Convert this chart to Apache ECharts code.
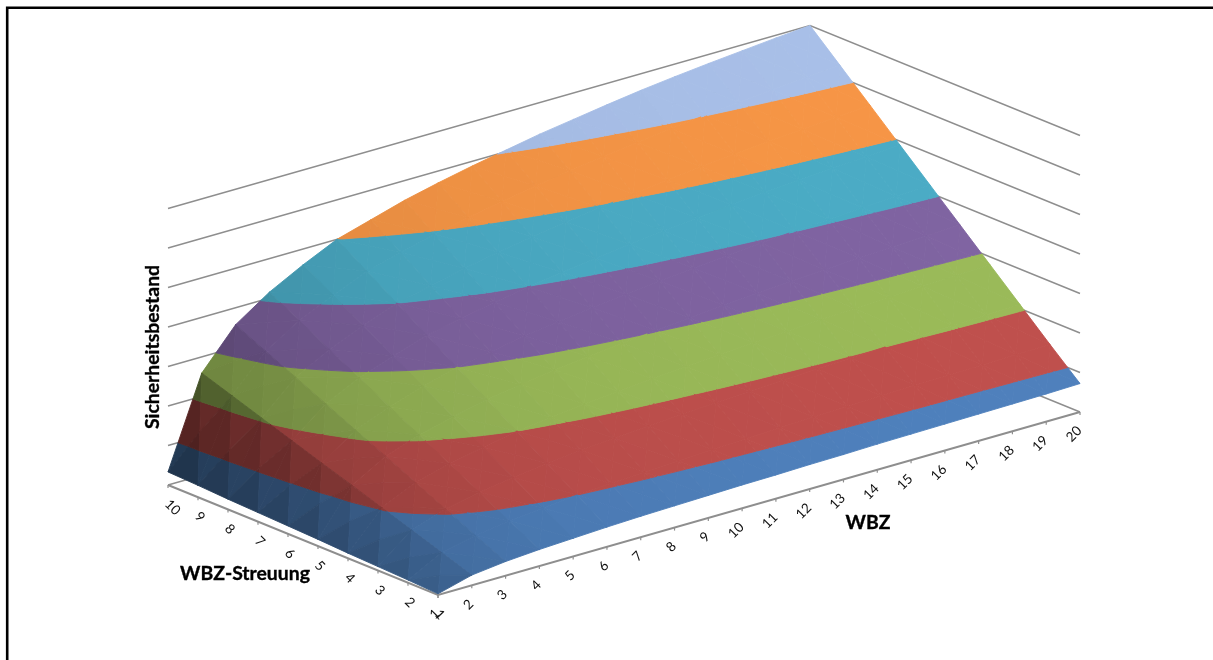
<!DOCTYPE html>
<html>
<head>
<meta charset="utf-8">
<title>Sicherheitsbestand</title>
<style>html,body{margin:0;padding:0;background:#fff}#chart{width:1213px;height:660px}</style>
<script src="https://cdn.jsdelivr.net/npm/echarts@6/dist/echarts.min.js"></script>
</head>
<body>
<div id="chart"></div>
<script>
// Tick labels of the two floor axes
const wbzTicks = [1,2,3,4,5,6,7,8,9,10,11,12,13,14,15,16,17,18,19,20];
const streuungTicks = [1,2,3,4,5,6,7,8,9,10];
// Wall grid levels, one colour band between each pair
const levels = [0,1,2,3,4,5,6,7];
const bandColors = ['#4F81BD','#C0504D','#9BBB59','#8064A2','#4BACC6','#F79646','#A9C0E9'];

// Safety stock: one row per WBZ, one column per WBZ-Streuung 1..10
const sicherheitsbestand = [
  [0.03,0.07,0.10,0.13,0.17,0.20,0.23,0.26,0.30,0.33],
  [0.26,0.52,0.78,1.04,1.30,1.55,1.81,2.07,2.33,2.59],
  [0.36,0.71,1.07,1.43,1.79,2.14,2.50,2.86,3.21,3.57],
  [0.42,0.83,1.25,1.66,2.08,2.49,2.91,3.32,3.74,4.15],
  [0.46,0.92,1.38,1.84,2.30,2.76,3.22,3.68,4.14,4.60],
  [0.50,1.00,1.50,2.00,2.50,3.00,3.50,4.00,4.50,5.00],
  [0.53,1.05,1.58,2.10,2.63,3.15,3.68,4.20,4.73,5.25],
  [0.55,1.10,1.65,2.20,2.75,3.30,3.85,4.40,4.95,5.50],
  [0.57,1.14,1.71,2.28,2.85,3.42,3.99,4.56,5.13,5.70],
  [0.59,1.18,1.76,2.35,2.94,3.53,4.12,4.70,5.29,5.88],
  [0.60,1.21,1.81,2.42,3.02,3.62,4.23,4.83,5.44,6.04],
  [0.62,1.24,1.86,2.48,3.10,3.72,4.34,4.96,5.58,6.20],
  [0.63,1.27,1.90,2.53,3.17,3.80,4.43,5.06,5.70,6.33],
  [0.65,1.29,1.94,2.58,3.23,3.88,4.52,5.17,5.81,6.46],
  [0.66,1.32,1.97,2.63,3.29,3.95,4.61,5.26,5.92,6.58],
  [0.67,1.34,2.00,2.67,3.34,4.01,4.68,5.34,6.01,6.68],
  [0.68,1.35,2.03,2.71,3.39,4.06,4.74,5.42,6.09,6.77],
  [0.69,1.37,2.06,2.74,3.43,4.11,4.80,5.48,6.17,6.85],
  [0.70,1.39,2.08,2.77,3.47,4.16,4.85,5.54,6.24,6.93],
  [0.72,1.40,2.10,2.80,3.50,4.20,4.90,5.60,6.30,7.00]
];

// Axonometric view: where the front floor corner sits and how far one unit moves along each axis
const VIEW = { x: 438, y: 595, wbzX: 642 / 19, wbzY: -183 / 19, strX: -30, strY: -110 / 9, zY: -39.5 };
const project = (wbz, str, z) => [
  VIEW.x + (wbz - 1) * VIEW.wbzX + (str - 1) * VIEW.strX,
  VIEW.y + (wbz - 1) * VIEW.wbzY + (str - 1) * VIEW.strY + z * VIEW.zY
];

const GRID_COLOR = '#8e8e8e';
const FONT = 'Lato';

function polyline(api, pts, width) {
  return {
    type: 'polyline',
    shape: { points: pts.map(p => api.coord(p)) },
    style: { stroke: GRID_COLOR, lineWidth: width, fill: null }
  };
}

// Back walls: each level runs along the WBZ-Streuung = 10 wall and then the WBZ = 20 wall
function renderWall(params, api) {
  const z = levels[api.value(0)];
  const wMin = wbzTicks[0], wMax = wbzTicks[wbzTicks.length - 1];
  const sMin = streuungTicks[0], sMax = streuungTicks[streuungTicks.length - 1];
  return polyline(api, [project(wMin, sMax, z), project(wMax, sMax, z), project(wMax, sMin, z)], 1.5);
}

// Keep the part of a triangle on one side of a height level
function clip(poly, level, keepAbove) {
  const out = [];
  const inside = p => keepAbove ? p[2] >= level : p[2] <= level;
  for (let i = 0; i < poly.length; i++) {
    const a = poly[i], b = poly[(i + 1) % poly.length];
    const ia = inside(a), ib = inside(b);
    if (ia) out.push(a);
    if (ia !== ib) {
      const t = (level - a[2]) / (b[2] - a[2]);
      out.push([a[0] + (b[0] - a[0]) * t, a[1] + (b[1] - a[1]) * t, level]);
    }
  }
  return out;
}

// Brightness from the slope of a plane: steep WBZ rise darkens, WBZ-Streuung rise lightens.
// The top end rolls off softly so no hard edge appears where the surface reaches full colour.
function slopeShade(slopeWbz, slopeStr) {
  const raw = 0.734 + 0.48 * slopeStr - 0.158 * slopeWbz;
  if (raw <= 0.9) return Math.max(0.3, raw);
  return Math.min(1, 0.9 + 0.14 * (1 - Math.exp(-(raw - 0.9) / 0.14)));
}

function facetSlopes(t) {
  const u = [t[1][0] - t[0][0], t[1][1] - t[0][1], t[1][2] - t[0][2]];
  const v = [t[2][0] - t[0][0], t[2][1] - t[0][1], t[2][2] - t[0][2]];
  const nx = u[1] * v[2] - u[2] * v[1];
  const ny = u[2] * v[0] - u[0] * v[2];
  const nz = u[0] * v[1] - u[1] * v[0];
  return [-nx / nz, -ny / nz];
}

function shadeColor(hex, k) {
  const n = parseInt(hex.slice(1), 16);
  const c = [(n >> 16) & 255, (n >> 8) & 255, n & 255].map(x => Math.round(x * k));
  return 'rgb(' + c.join(',') + ')';
}

// One grid cell: four facets meeting at the cell centre, each cut into colour bands.
// Facet contrast is strong on the steep low-WBZ cells and fades where the surface flattens.
function renderCell(params, api) {
  const i = api.value(0), j = api.value(1);
  const w0 = wbzTicks[i], w1 = wbzTicks[i + 1];
  const s0 = streuungTicks[j], s1 = streuungTicks[j + 1];
  const a = [w0, s0, sicherheitsbestand[i][j]];
  const b = [w1, s0, sicherheitsbestand[i + 1][j]];
  const c = [w1, s1, sicherheitsbestand[i + 1][j + 1]];
  const d = [w0, s1, sicherheitsbestand[i][j + 1]];
  const m = [(w0 + w1) / 2, (s0 + s1) / 2, (a[2] + b[2] + c[2] + d[2]) / 4];
  const cellSlopeWbz = (b[2] + c[2] - a[2] - d[2]) / 2;
  const cellSlopeStr = (c[2] + d[2] - a[2] - b[2]) / 2;
  const cellShade = slopeShade(cellSlopeWbz, cellSlopeStr);
  const dark = 1 - cellShade;
  const contrast = Math.min(1, 0.08 + 8 * dark * dark);
  const facets = [[d, c, m], [c, b, m], [d, a, m], [a, b, m]];
  const children = [];
  facets.forEach(tri => {
    const sl = facetSlopes(tri);
    const shade = cellShade + (slopeShade(sl[0], sl[1]) - cellShade) * contrast;
    for (let k = 0; k < bandColors.length; k++) {
      const part = clip(clip(tri, levels[k], true), levels[k + 1], false);
      if (part.length < 3) continue;
      const color = shadeColor(bandColors[k], shade);
      children.push({
        type: 'polygon',
        shape: { points: part.map(p => api.coord(project(p[0], p[1], p[2]))) },
        style: { fill: color, stroke: color, lineWidth: 0.9 }
      });
    }
  });
  return { type: 'group', children };
}

// Floor axes with their tick marks and rotated labels
function renderAxisTick(params, api) {
  const isWbz = api.value(0) === 0;
  const idx = api.value(1);
  const value = isWbz ? wbzTicks[idx] : streuungTicks[idx];
  const base = isWbz ? project(value, 1, 0) : project(1, value, 0);
  const pos = api.coord(base);
  return {
    type: 'group',
    children: [
      { type: 'line', shape: { x1: pos[0], y1: pos[1], x2: pos[0], y2: pos[1] + 3 },
        style: { stroke: GRID_COLOR, lineWidth: 1.2 } },
      { type: 'text', x: pos[0] + (isWbz ? -0.5 : -1), y: pos[1] + (isWbz ? 16.5 : 17),
        rotation: isWbz ? Math.PI / 4 : -Math.PI / 4,
        style: { text: String(value), fontFamily: FONT, fontSize: 13.5, fill: '#111',
                 align: isWbz ? 'right' : 'left', verticalAlign: 'middle' } }
    ]
  };
}

function renderFloor(params, api) {
  const wMax = wbzTicks[wbzTicks.length - 1], sMax = streuungTicks[streuungTicks.length - 1];
  return polyline(api, [project(1, sMax, 0), project(1, 1, 0), project(wMax, 1, 0)], 2);
}

// Cells are painted from the far corner towards the viewer
const cellData = [];
for (let i = wbzTicks.length - 2; i >= 0; i--) {
  for (let j = streuungTicks.length - 2; j >= 0; j--) cellData.push([i, j]);
}
const tickData = wbzTicks.map((_, i) => [0, i]).concat(streuungTicks.map((_, j) => [1, j]));

const titleStyle = { fontFamily: FONT, fontWeight: 'bold', fontSize: 19.4, fill: '#000',
                     stroke: '#000', lineWidth: 0.35, align: 'center', verticalAlign: 'middle' };

const chart = echarts.init(document.getElementById('chart'), null, { renderer: 'canvas' });
chart.setOption({
  animation: false,
  backgroundColor: '#ffffff',
  grid: { left: 0, right: 0, top: 0, bottom: 0 },
  xAxis: { type: 'value', min: 0, max: 1213, show: false },
  yAxis: { type: 'value', min: 0, max: 660, inverse: true, show: false },
  graphic: [
    { type: 'polyline', silent: true,
      shape: { points: [[7.2, 660], [7.2, 7.8], [1213, 7.8]] },
      style: { stroke: '#000', lineWidth: 2.6, fill: null } },
    { type: 'text', x: 868, y: 523, silent: true,
      style: Object.assign({ text: 'WBZ' }, titleStyle) },
    { type: 'text', x: 245, y: 574, silent: true,
      style: Object.assign({ text: 'WBZ-Streuung' }, titleStyle) },
    { type: 'text', x: 153, y: 347, rotation: Math.PI / 2, silent: true,
      style: Object.assign({ text: 'Sicherheitsbestand' }, titleStyle) }
  ],
  series: [
    { type: 'custom', silent: true, clip: false, coordinateSystem: 'cartesian2d',
      data: levels.map((_, i) => [i]), renderItem: renderWall, z: 1 },
    { type: 'custom', silent: true, clip: false, coordinateSystem: 'cartesian2d',
      data: [[0]], renderItem: renderFloor, z: 2 },
    { type: 'custom', silent: true, clip: false, coordinateSystem: 'cartesian2d',
      data: tickData, renderItem: renderAxisTick, z: 2 },
    { type: 'custom', silent: true, clip: false, coordinateSystem: 'cartesian2d',
      data: cellData, renderItem: renderCell, z: 3 }
  ]
});
</script>
</body>
</html>
